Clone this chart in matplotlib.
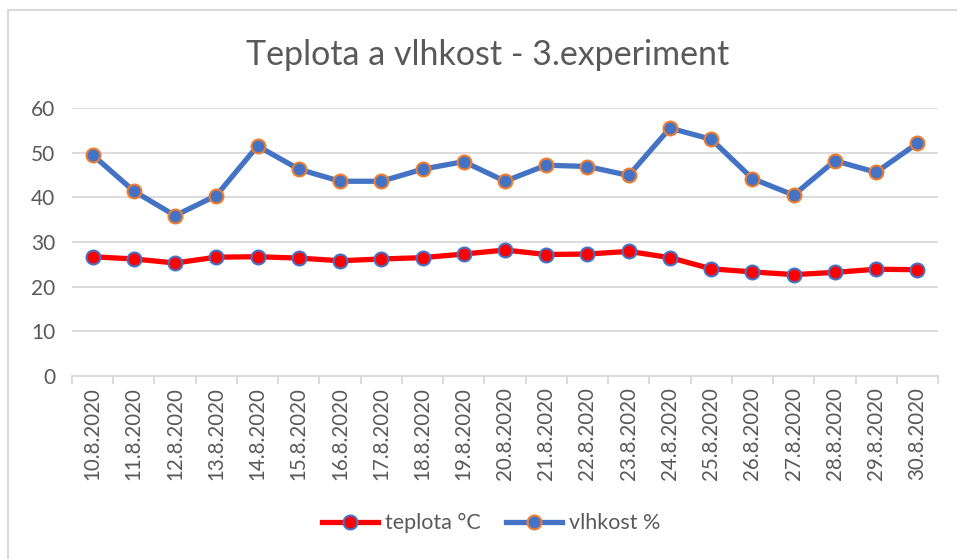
import matplotlib
matplotlib.use("Agg")
import matplotlib.pyplot as plt
from matplotlib.patches import Rectangle

dates = ["10.8.2020", "11.8.2020", "12.8.2020", "13.8.2020", "14.8.2020", "15.8.2020",
         "16.8.2020", "17.8.2020", "18.8.2020", "19.8.2020", "20.8.2020", "21.8.2020",
         "22.8.2020", "23.8.2020", "24.8.2020", "25.8.2020", "26.8.2020", "27.8.2020",
         "28.8.2020", "29.8.2020", "30.8.2020"]
teplota = [26.7, 26.2, 25.3, 26.6, 26.7, 26.4, 25.8, 26.2, 26.5, 27.3, 28.2, 27.2,
           27.3, 27.9, 26.5, 24.0, 23.3, 22.7, 23.2, 23.9, 23.8]
vlhkost = [49.5, 41.4, 35.9, 40.4, 51.5, 46.3, 43.6, 43.6, 46.3, 48.0, 43.6, 47.2,
           46.9, 44.9, 55.5, 53.0, 44.2, 40.5, 48.2, 45.6, 52.1]
yticks = [0, 10, 20, 30, 40, 50, 60]

W, H = 957, 559
fig = plt.figure(figsize=(W / 100, H / 100), dpi=100)
plt.rcParams['font.family'] = ['Lato', 'DejaVu Sans']
txt = '#595959'
grid = '#D9D9D9'

# chart frame
fig.patches.append(Rectangle((8 / W, -0.1), 1.2, 1 - 10 / H + 0.1, transform=fig.transFigure,
                             fill=False, edgecolor='#D9D9D9', linewidth=1.5))

ax = fig.add_axes([72 / W, 1 - 376 / H, (938 - 72) / W, (376 - 108) / H])
x = list(range(len(dates)))
ax.plot(x, teplota, color='#FF0000', linewidth=3.8, marker='o', markersize=10,
        markerfacecolor='#FF0000', markeredgecolor='#4472C4', markeredgewidth=1.5,
        label='teplota °C', zorder=3)
ax.plot(x, vlhkost, color='#4472C4', linewidth=3.8, marker='o', markersize=10,
        markerfacecolor='#4472C4', markeredgecolor='#ED7D31', markeredgewidth=1.5,
        label='vlhkost %', zorder=3)

ax.set_xlim(-0.5, len(dates) - 0.5)
ax.set_ylim(0, 60)
ax.set_yticks(yticks)
ax.set_yticklabels([str(v) for v in yticks], color=txt, fontsize=15)
ax.tick_params(axis='y', length=0, pad=12)
ax.yaxis.grid(True, color=grid, linewidth=1.3)
ax.set_axisbelow(True)

ax.set_xticks(x)
ax.set_xticklabels(dates, rotation=90, color=txt, fontsize=14.8)
ax.tick_params(axis='x', which='major', length=0, pad=8)
ax.set_xticks([i - 0.5 for i in range(len(dates) + 1)], minor=True)
ax.tick_params(axis='x', which='minor', length=6, color=grid, width=1.3)

for s in ['top', 'right', 'left']:
    ax.spines[s].set_visible(False)
ax.spines['bottom'].set_color(grid)
ax.spines['bottom'].set_linewidth(1.3)

fig.text(488 / W, 1 - 55 / H, 'Teplota a vlhkost - 3.experiment', ha='center', va='center',
         fontsize=24.5, color=txt)

leg = fig.legend(loc='center', bbox_to_anchor=(491 / W, 1 - 523 / H), ncol=2, frameon=False,
                 fontsize=15.5, handlelength=2.6, columnspacing=1.2, handletextpad=0.3)
for t in leg.get_texts():
    t.set_color(txt)

fig.savefig('out.png', dpi=100)
